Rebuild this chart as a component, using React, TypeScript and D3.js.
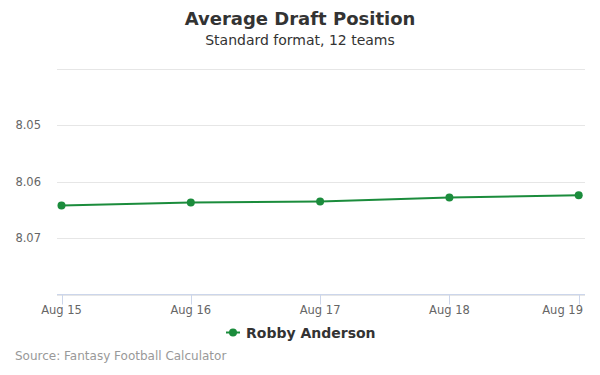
import React from "react";
import * as d3 from "d3";

const categories = ["Aug 15", "Aug 16", "Aug 17", "Aug 18", "Aug 19"];
const adpValues = [8.0642, 8.0637, 8.0635, 8.0628, 8.0624];
const yTicks = [8.04, 8.05, 8.06, 8.07, 8.08];
const yLabels = [8.05, 8.06, 8.07];
const seriesName = "Robby Anderson";

const W = 600;
const H = 375;
const FONT = "'DejaVu Sans', 'Lucida Grande', sans-serif";
const GREEN = "#1b8c3c";

export default function App() {
  const x = d3.scalePoint<string>().domain(categories).range([61.5, 578.7]);
  const y = d3.scaleLinear().domain([8.04, 8.08]).range([69, 294.5]);
  const line = d3
    .line<number>()
    .x((_, i) => x(categories[i]) as number)
    .y((d) => y(d));

  return (
    <svg width={W} height={H} style={{ position: "absolute", left: 0, top: 0, fontFamily: FONT }}>
      <rect width={W} height={H} fill="#fff" />
      <text x={W / 2} y={25} textAnchor="middle" fontSize={18} fontWeight="bold" fill="#333">
        Average Draft Position
      </text>
      <text x={W / 2} y={45} textAnchor="middle" fontSize={14} fill="#333">
        Standard format, 12 teams
      </text>

      {yTicks.map((t) => (
        <line key={t} x1={57} x2={585} y1={Math.round(y(t)) + 0.5} y2={Math.round(y(t)) + 0.5} stroke="#e6e6e6" />
      ))}
      {yLabels.map((t) => (
        <text key={t} x={41} y={y(t) + 4} textAnchor="end" fontSize={11.5} fill="#666">
          {t.toFixed(2)}
        </text>
      ))}

      <line x1={57} x2={585} y1={294.5} y2={294.5} stroke="#ccd6eb" />
      {categories.map((c, i) => {
        const last = i === categories.length - 1;
        return (
          <g key={c}>
            <line x1={Math.round(x(c) as number) + 0.5} x2={Math.round(x(c) as number) + 0.5} y1={294.5} y2={304.5} stroke="#ccd6eb" />
            <text x={last ? 583 : x(c)} y={314} textAnchor={last ? "end" : "middle"} fontSize={11.5} fill="#666">
              {c}
            </text>
          </g>
        );
      })}

      <path d={line(adpValues) || ""} fill="none" stroke={GREEN} strokeWidth={2} />
      {adpValues.map((v, i) => (
        <circle key={i} cx={x(categories[i])} cy={y(v)} r={4} fill={GREEN} />
      ))}

      <g>
        <line x1={226} x2={240} y1={332.5} y2={332.5} stroke={GREEN} strokeWidth={2} />
        <circle cx={233} cy={332.5} r={4} fill={GREEN} />
        <text x={246} y={337.5} fontSize={14} fontWeight="bold" fill="#333">
          {seriesName}
        </text>
      </g>

      <text x={15} y={360} fontSize={12} fill="#999">
        Source: Fantasy Football Calculator
      </text>
    </svg>
  );
}
